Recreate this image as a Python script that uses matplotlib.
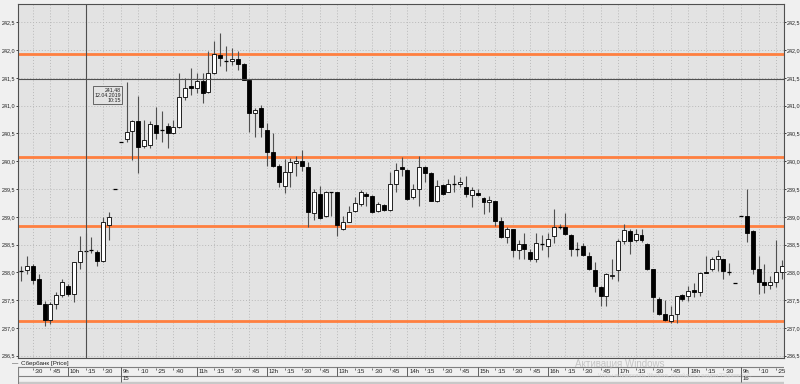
import numpy as np
import matplotlib
matplotlib.use('Agg')
import matplotlib.pyplot as plt
from matplotlib.ticker import FuncFormatter

plt.rcParams['font.family'] = ['Liberation Sans', 'DejaVu Sans']

# 5-minute candles, Sberbank 12.04 / 15.04 / 16.04.2019
opens = [238.02, 238.05, 238.11, 237.89, 237.44, 237.15, 237.43, 237.60, 237.75, 237.61,
         238.18, 238.39, 238.41, 238.37, 238.20, 238.85, 239.51, 240.35, 240.40, 240.54,
         240.72, 240.28, 240.29, 240.66, 240.56, 240.63, 240.51, 240.62, 241.15, 241.35,
         241.31, 241.44, 241.25, 241.59, 241.91, 241.81, 241.80, 241.84, 241.75, 241.46,
         240.86, 240.95, 240.56, 240.17, 239.92, 239.56, 239.81, 239.96, 240.01, 239.90,
         239.07, 239.41, 239.01, 239.44, 239.44, 238.78, 238.91, 239.10, 239.23, 239.41,
         239.37, 239.10, 239.22, 239.13, 239.60, 239.90, 239.84, 239.35, 239.51, 239.90,
         239.78, 239.28, 239.57, 239.45, 239.60, 239.59, 239.53, 239.40, 239.43, 239.34,
         239.26, 239.28, 238.92, 238.63, 238.78, 238.41, 238.51, 238.36, 238.25, 238.51,
         238.47, 238.65, 238.81, 238.81, 238.68, 238.42, 238.48, 238.30, 238.05, 237.74,
         237.57, 237.93, 238.05, 238.57, 238.75, 238.59, 238.67, 238.51, 238.06, 237.53,
         237.25, 237.13, 237.25, 237.59, 237.57, 237.68, 237.65, 238.01, 238.07, 238.24,
         238.24, 238.00, 237.81, 239.01, 239.01, 238.75, 238.06, 237.82, 237.77, 237.82,
         238.01]
highs = [238.11, 238.30, 238.16, 237.98, 237.49, 237.47, 237.65, 237.88, 237.79, 238.19,
         238.66, 238.71, 238.63, 238.41, 238.99, 239.08, 239.51, 240.35, 241.43, 240.75,
         241.17, 240.74, 240.72, 240.97, 240.90, 240.69, 240.74, 241.59, 241.50, 241.68,
         241.59, 241.59, 241.98, 242.16, 242.30, 242.07, 242.04, 241.99, 241.77, 241.47,
         240.95, 241.02, 240.68, 240.51, 239.95, 240.04, 240.05, 240.10, 240.20, 239.98,
         239.50, 239.56, 239.47, 239.45, 239.45, 239.01, 239.20, 239.35, 239.48, 239.44,
         239.39, 239.26, 239.23, 239.80, 239.96, 240.08, 239.86, 239.60, 240.10, 239.92,
         239.80, 239.66, 239.60, 239.68, 239.75, 239.71, 239.74, 239.53, 239.51, 239.35,
         239.38, 239.29, 238.99, 238.81, 238.79, 238.59, 238.71, 238.42, 238.71, 238.67,
         238.71, 239.14, 238.88, 239.07, 238.69, 238.54, 238.53, 238.37, 238.19, 237.76,
         237.99, 238.25, 238.60, 238.88, 238.79, 238.79, 238.78, 238.53, 238.07, 237.55,
         237.51, 237.39, 237.58, 237.61, 237.76, 237.81, 238.00, 238.30, 238.27, 238.41,
         238.25, 238.17, 237.81, 239.01, 239.51, 238.76, 238.30, 238.15, 237.94, 238.59,
         238.23]
lows = [237.84, 237.97, 237.79, 237.43, 237.03, 237.07, 237.34, 237.55, 237.58, 237.46,
        238.06, 238.24, 238.35, 238.11, 238.18, 238.59, 239.51, 240.35, 240.35, 240.02,
        239.78, 240.23, 240.23, 240.40, 240.34, 240.23, 240.49, 240.60, 241.11, 241.20,
        241.23, 241.04, 241.23, 241.57, 241.71, 241.62, 241.74, 241.65, 241.46, 240.53,
        240.44, 240.44, 239.92, 239.90, 239.53, 239.43, 239.53, 239.74, 239.83, 238.81,
        238.95, 238.96, 238.99, 239.01, 238.66, 238.77, 238.90, 239.08, 239.20, 239.20,
        239.07, 239.08, 239.11, 239.11, 239.45, 239.74, 239.31, 239.33, 239.20, 239.62,
        239.28, 239.26, 239.39, 239.44, 239.45, 239.53, 239.35, 239.17, 239.38, 239.05,
        239.08, 238.84, 238.62, 238.53, 238.27, 238.25, 238.24, 238.21, 238.18, 238.41,
        238.27, 238.53, 238.78, 238.67, 238.30, 238.30, 238.30, 238.05, 237.64, 237.40,
        237.39, 237.88, 237.85, 238.51, 238.33, 238.54, 238.54, 238.05, 237.28, 237.23,
        237.13, 237.09, 237.09, 237.49, 237.49, 237.55, 237.58, 237.99, 238.03, 238.03,
        237.88, 237.95, 237.81, 239.01, 238.54, 237.97, 237.61, 237.63, 237.71, 237.73,
        237.89]
closes = [238.02, 238.11, 237.87, 237.44, 237.15, 237.44, 237.60, 237.83, 237.61, 238.18,
          238.38, 238.39, 238.41, 238.20, 238.90, 239.00, 239.51, 240.35, 240.53, 240.72,
          240.25, 240.38, 240.67, 240.51, 240.56, 240.51, 240.62, 241.15, 241.32, 241.31,
          241.44, 241.23, 241.59, 241.93, 241.85, 241.81, 241.84, 241.75, 241.47, 240.86,
          240.92, 240.62, 240.17, 239.92, 239.62, 239.81, 239.99, 240.01, 239.92, 239.08,
          239.44, 238.98, 239.45, 239.44, 238.85, 238.91, 239.09, 239.25, 239.45, 239.37,
          239.08, 239.23, 239.13, 239.60, 239.84, 239.86, 239.32, 239.51, 239.90, 239.78,
          239.29, 239.56, 239.41, 239.60, 239.60, 239.62, 239.41, 239.49, 239.39, 239.26,
          239.31, 238.92, 238.63, 238.79, 238.41, 238.52, 238.43, 238.25, 238.53, 238.51,
          238.61, 238.81, 238.81, 238.69, 238.42, 238.42, 238.32, 238.06, 237.75, 237.57,
          237.97, 237.95, 238.57, 238.77, 238.57, 238.69, 238.59, 238.06, 237.56, 237.25,
          237.15, 237.23, 237.57, 237.53, 237.67, 237.65, 237.99, 237.99, 238.24, 238.29,
          238.03, 238.00, 237.81, 239.01, 238.71, 238.07, 237.82, 237.77, 237.83, 238.01,
          238.12]

# support / resistance levels
levels = [241.93, 240.07, 238.83, 237.13]

# time axis labels (candle index -> label)
tick_idx = [2, 5, 8, 11, 14, 17, 20, 23, 26] + list(range(30, 130, 3))
tick_lbl = [':30', ':45', '10h', ':15', ':30', '9h', ':10', ':25', ':40',
            '11h', ':15', ':30', ':45', '12h', ':15', ':30', ':45', '13h', ':15', ':30', ':45',
            '14h', ':15', ':30', ':45', '15h', ':15', ':30', ':45', '16h', ':15', ':30', ':45',
            '17h', ':15', ':30', ':45', '18h', ':15', ':30', '9h', ':10', ':25']
day_idx = [17, 123]
day_lbl = ['15', '16']

cross_idx = 11
cross_price = 241.48

W, H = 800, 384
fig = plt.figure(figsize=(W / 100, H / 100), dpi=100, facecolor='#f0f0f0')
ax = fig.add_axes([18 / W, 26 / H, 766 / W, 354 / H])
ax.set_facecolor('#e3e3e3')

n = len(opens)
ax.set_xlim(-0.55, 130.35)
ax.set_ylim(236.46, 242.83)

# grid
ax.set_yticks(np.arange(236.5, 243.0, 0.5))
ax.set_xticks(tick_idx)
ax.grid(True, color='#b9b9b9', linestyle=(0, (1, 2)), linewidth=0.7)
ax.set_axisbelow(True)
ax.tick_params(axis='x', bottom=False, labelbottom=False)
ax.tick_params(axis='y', left=True, right=True, labelleft=True, labelright=True,
               length=1.2, width=0.6, pad=0.5, labelsize=3.9, colors='#202020')
ax.yaxis.set_major_formatter(FuncFormatter(lambda v, p: ('%.1f' % v).replace('.', ',')))
for s in ax.spines.values():
    s.set_color('#505050')
    s.set_linewidth(0.8)

for lv in levels:
    ax.axhline(lv, color='#ff7f3f', linewidth=2.0, zorder=2)

# candles
bw = 0.68
for i in range(n):
    o, h, l, c = opens[i], highs[i], lows[i], closes[i]
    if h - l > 0.005:
        ax.vlines(i, l, h, color='#505050', linewidth=0.8, zorder=3)
    if abs(c - o) < 0.015:
        ax.hlines(o, i - bw / 2, i + bw / 2, color='black', linewidth=0.9, zorder=4)
    else:
        face = 'white' if c > o else 'black'
        ax.bar(i, abs(c - o), bottom=min(o, c), width=bw, color=face,
               edgecolor='black', linewidth=0.6, zorder=4)

# crosshair
ax.axhline(cross_price, color='#505050', linewidth=0.8, zorder=5)
ax.axvline(cross_idx, color='#505050', linewidth=0.8, zorder=5)
ax.text(17.0, 241.19, '241,48\n12.04.2019\n10:15', fontsize=3.8, ha='right', va='center',
        linespacing=1.05, color='#202020', zorder=6,
        bbox=dict(boxstyle='square,pad=0.25', facecolor='#e3e3e3', edgecolor='#505050', linewidth=0.6))

# bottom time axis
bx = fig.add_axes([18 / W, 0, 766 / W, 26 / H])
bx.set_xlim(ax.get_xlim())
bx.set_ylim(384, 358)
bx.axis('off')
bx.axhline(366.5, color='#808080', linewidth=0.8)
bx.axhline(375.5, color='#808080', linewidth=0.8)
bx.axhspan(382, 384, color='#c8c8c8')
bx.axvline(-0.55, ymin=0, ymax=(384 - 366.5) / 26, color='#808080', linewidth=0.8)
for xi, lb in zip(tick_idx, tick_lbl):
    if lb.endswith('h'):
        bx.vlines(xi, 366.5, 375.5, color='#606060', linewidth=0.7)
    else:
        bx.vlines(xi, 367.5, 369.5, color='#606060', linewidth=0.6)
    bx.text(xi + 0.3, 371.3, lb, fontsize=4.3, ha='left', va='center', color='#202020')
for xi, lb in zip(day_idx, day_lbl):
    bx.vlines(xi, 366.5, 382, color='#606060', linewidth=0.7)
    bx.text(xi + 0.3, 379, lb, fontsize=4.3, ha='left', va='center', color='#202020')

fig.text(12 / W, 1 - 364 / H, '—', fontsize=4.5, ha='left', va='center', color='#202020')
fig.text(21 / W, 1 - 364 / H, 'Сбербанк [Price]', fontsize=4.5, ha='left', va='center', color='#202020')
fig.text(620 / W, 1 - 364 / H, 'Активация Windows', fontsize=7, ha='center', va='center', color='#c4c4c4')
fig.text(675 / W, 1 - 375 / H, 'Чтобы активировать Windows, перейдите в раздел "Параметры".',
         fontsize=3.6, ha='center', va='center', color='#cfcfcf')

fig.savefig('out.png', dpi=100, facecolor=fig.get_facecolor())
